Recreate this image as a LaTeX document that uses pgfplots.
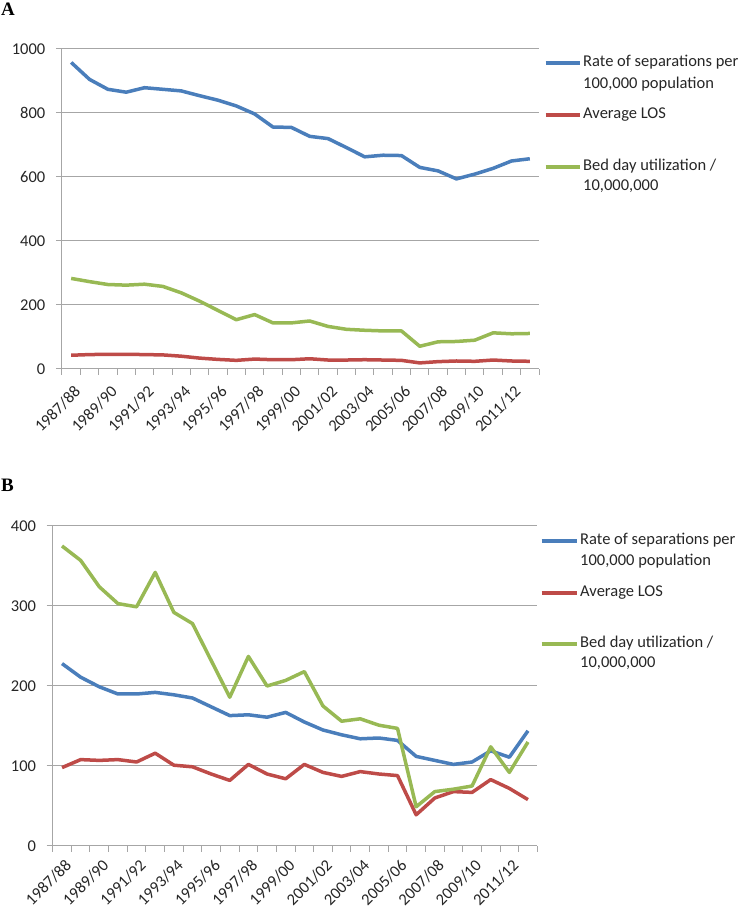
\documentclass[border=0pt]{standalone}
\usepackage{fontspec}
\setmainfont{Carlito}
\newfontfamily\serifb{Liberation Serif}
\usepackage{pgfplots}
\usepackage{pgfplotstable}
\pgfplotsset{compat=1.18}
\definecolor{sblue}{HTML}{4A7EBB}
\definecolor{sred}{HTML}{BE4B48}
\definecolor{sgreen}{HTML}{98B954}
\definecolor{gridgray}{HTML}{A6A6A6}
\definecolor{txt}{HTML}{262626}

\pgfplotstableread{
x rate los bed
0 958 43 283
1 905 45 273
2 874 46 264
3 865 46 262
4 879 45 265
5 874 44 258
6 869 40 238
7 854 34 212
8 840 30 183
9 822 27 154
10 797 31 170
11 756 29 144
12 755 29 144
13 727 32 150
14 720 28 133
15 692 28 124
16 663 29 121
17 668 28 119
18 667 27 119
19 630 19 71
20 619 23 85
21 594 25 86
22 609 24 90
23 627 28 113
24 650 25 110
25 657 24 111
}\dataA

\pgfplotstableread{
x rate los bed
0 228 98 375
1 211 108 357
2 199 107 324
3 190 108 303
4 190 105 299
5 192 116 342
6 189 101 292
7 185 99 278
8 174 90 232
9 163 82 186
10 164 102 237
11 161 90 200
12 167 84 207
13 155 102 218
14 145 92 175
15 139 87 156
16 134 93 159
17 135 90 151
18 132 88 147
19 112 39 49
20 107 60 68
21 102 68 71
22 105 67 75
23 119 83 124
24 111 72 92
25 144 58 130
}\dataB

\pgfplotsset{
 myaxis/.style={
  scale only axis, height=320pt,
  xmin=-0.5, xmax=25.5, ymin=0,
  axis x line*=bottom, axis y line*=left,
  axis line style={gridgray, line width=1pt, -},
  xtick={-0.5,0.5,...,25.5}, xticklabels={},
  extra x ticks={0,2,...,24},
  extra x tick labels={1987/88,1989/90,1991/92,1993/94,1995/96,1997/98,1999/00,2001/02,2003/04,2005/06,2007/08,2009/10,2011/12},
  extra x tick style={major tick length=0pt, xticklabel style={xshift=6.5pt, yshift=#1, rotate=45, anchor=east, inner sep=0pt}},
  yticklabel style={inner sep=0pt, xshift=-10.5pt},
  ymajorgrids, grid style={gridgray, line width=1pt},
  major tick style={gridgray, line width=1pt},
  tick align=outside, major tick length=6pt,
  /pgf/number format/assume math mode=true,
  /pgf/number format/1000 sep={},
  tick label style={font=\fontsize{16.5}{19}\selectfont, text=txt},
  every axis plot/.append style={line width=3.5pt, line join=round, no markers},
 }
}

\begin{document}
\begin{tikzpicture}
\path[use as bounding box] (0pt,0pt) rectangle (744pt,909pt);

\node[font=\serifb\bfseries\fontsize{19}{22}\selectfont, anchor=west, inner sep=0pt] at (1pt,900pt) {A};
\node[font=\serifb\bfseries\fontsize{19}{22}\selectfont, anchor=west, inner sep=0pt] at (1pt,424pt) {B};

\begin{axis}[myaxis=-20pt, at={(62pt,540pt)}, anchor=south west, width=477pt,
  ymax=1000, ytick={0,200,...,1000}]
\addplot[sblue] table[x=x,y=rate]{\dataA};
\addplot[sred] table[x=x,y=los]{\dataA};
\addplot[sgreen] table[x=x,y=bed]{\dataA};
\end{axis}

\begin{axis}[myaxis=-16.5pt, at={(52.7pt,63pt)}, anchor=south west, width=484.6pt,
  ymax=400, ytick={0,100,...,400}]
\addplot[sblue] table[x=x,y=rate]{\dataB};
\addplot[sred] table[x=x,y=los]{\dataB};
\addplot[sgreen] table[x=x,y=bed]{\dataB};
\end{axis}

% legends
\begin{scope}[every node/.style={anchor=west, inner sep=0pt, text=txt, font=\fontsize{16.5}{19}\selectfont, text height=11pt, text depth=3.5pt}]
\draw[sblue, line width=3.5pt] (545.7pt,846pt) -- (580pt,846pt);
\node at (583pt,846pt) {Rate of separations per};
\node at (583pt,824pt) {100,000 population};
\draw[sred, line width=3.5pt] (545.7pt,794pt) -- (580pt,794pt);
\node at (583pt,794pt) {Average LOS};
\draw[sgreen, line width=3.5pt] (545.7pt,742pt) -- (580pt,742pt);
\node at (583pt,742pt) {Bed day utilization /};
\node at (583pt,722pt) {10,000,000};

\draw[sblue, line width=3.5pt] (541.7pt,368pt) -- (576.7pt,368pt);
\node at (580pt,368pt) {Rate of separations per};
\node at (580pt,347pt) {100,000 population};
\draw[sred, line width=3.5pt] (541.7pt,316pt) -- (576.7pt,316pt);
\node at (580pt,316pt) {Average LOS};
\draw[sgreen, line width=3.5pt] (541.7pt,265pt) -- (576.7pt,265pt);
\node at (580pt,265pt) {Bed day utilization /};
\node at (580pt,245pt) {10,000,000};
\end{scope}
\end{tikzpicture}
\end{document}
